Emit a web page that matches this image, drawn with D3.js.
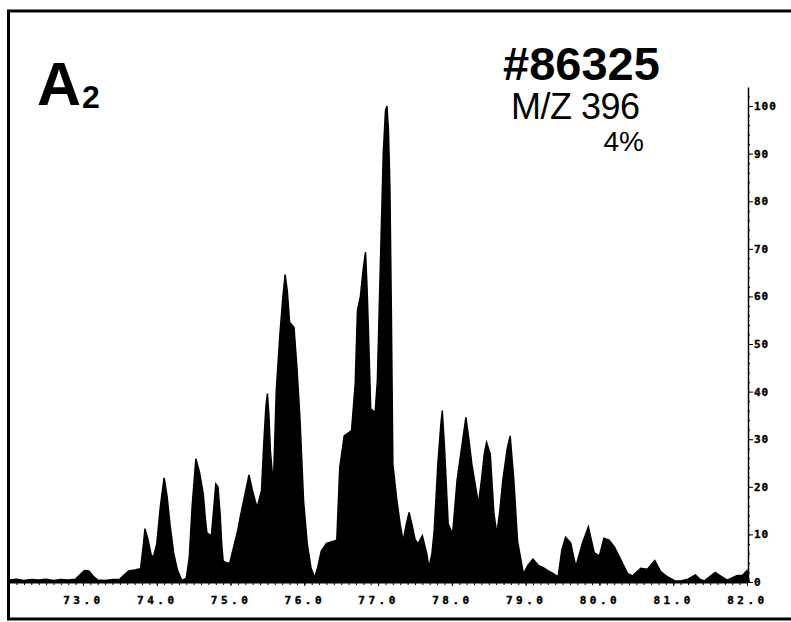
<!DOCTYPE html>
<html>
<head>
<meta charset="utf-8">
<script src="https://cdn.jsdelivr.net/npm/d3@7"></script>
<style>
  body { margin: 0; background: #fff; }
  .tick text { font-family: "DejaVu Sans Mono", monospace; font-weight: bold; }
</style>
</head>
<body>
<div id="chart"></div>
<script>
var width = 791, height = 622

// retention time (min) and relative abundance (%)
var times = [72.00, 72.10, 72.20, 72.30, 72.40, 72.50, 72.60, 72.70, 72.80, 72.90,
  72.96, 73.02, 73.08, 73.14, 73.20, 73.30, 73.40, 73.50, 73.56, 73.62,
  73.70, 73.78, 73.82, 73.84, 73.88, 73.92, 73.95, 74.00, 74.05, 74.10,
  74.14, 74.18, 74.23, 74.28, 74.34, 74.40, 74.44, 74.48, 74.53, 74.58,
  74.63, 74.66, 74.68, 74.74, 74.77, 74.80, 74.83, 74.86, 74.88, 74.90,
  74.95, 74.99, 75.04, 75.10, 75.13, 75.19, 75.25, 75.30, 75.36, 75.42,
  75.45, 75.48, 75.50, 75.52, 75.54, 75.58, 75.60, 75.62, 75.67, 75.71,
  75.74, 75.77, 75.80, 75.86, 75.90, 75.94, 75.99, 76.04, 76.09, 76.14,
  76.18, 76.23, 76.30, 76.44, 76.48, 76.54, 76.64, 76.69, 76.72, 76.76,
  76.80, 76.83, 76.85, 76.87, 76.90, 76.96, 76.99, 77.03, 77.07, 77.10,
  77.12, 77.14, 77.16, 77.18, 77.20, 77.25, 77.30, 77.34, 77.38, 77.42,
  77.46, 77.50, 77.54, 77.60, 77.66, 77.69, 77.73, 77.76, 77.81, 77.85,
  77.87, 77.90, 77.95, 78.01, 78.07, 78.13, 78.19, 78.23, 78.27, 78.36,
  78.40, 78.44, 78.47, 78.52, 78.57, 78.61, 78.65, 78.69, 78.75, 78.79,
  78.84, 78.89, 78.97, 79.03, 79.10, 79.17, 79.24, 79.30, 79.37, 79.44,
  79.49, 79.54, 79.61, 79.68, 79.77, 79.85, 79.93, 80.00, 80.06, 80.13,
  80.20, 80.27, 80.38, 80.45, 80.56, 80.65, 80.75, 80.83, 80.92, 81.03,
  81.10, 81.20, 81.30, 81.36, 81.42, 81.50, 81.57, 81.65, 81.73, 81.86,
  81.94, 82.00, 82.03]
var abundance = [0.4, 0.6, 0.3, 0.5, 0.4, 0.6, 0.3, 0.5, 0.4, 0.6,
  1.5, 2.4, 2.3, 1.2, 0.4, 0.3, 0.5, 0.6, 1.5, 2.3,
  2.5, 2.8, 8, 11.2, 9, 6, 5, 8, 16, 21.9,
  18, 12, 6, 2.5, 0.3, 0.8, 5, 16, 25.9, 23,
  18.5, 13, 10.3, 9.7, 15, 20.6, 20, 14, 8, 4.4,
  4, 4, 7.2, 11, 13.5, 18, 22.5, 19, 15.6, 19.2,
  29, 37, 39.6, 35, 27.6, 20.2, 30, 40.2, 52.2, 60,
  64.6, 61, 54.6, 53.5, 45, 34.6, 17, 8, 3, 0.9,
  3, 6.5, 8.1, 8.8, 24, 30.7, 31.8, 41.7, 57, 60,
  66, 69.3, 62, 52.2, 36.4, 35.6, 42.3, 66.2, 90, 99,
  100, 95, 83, 56.4, 24.8, 17.7, 12, 8.6, 12, 14.6,
  12, 9, 8, 9.7, 5.9, 3, 6, 10.7, 24.8, 33,
  36, 28.3, 12.2, 10.1, 21.3, 28, 34.6, 30, 24.8, 16.4,
  21.3, 27, 29.3, 26.9, 14.3, 10.1, 15, 21.3, 28, 30.7,
  21.3, 8.6, 1.7, 3.5, 4.8, 3.5, 3.0, 2.4, 1.8, 1.1,
  6.7, 9.4, 8.2, 3.2, 8.2, 11.6, 6.1, 5.5, 9.2, 8.8,
  7.4, 5.3, 1.8, 1.3, 2.9, 2.7, 4.5, 2.2, 1.1, 0.2,
  0.2, 0.6, 1.5, 0.6, 0.2, 1.2, 2, 1.2, 0.4, 1.3,
  1.4, 2.4, 0]

var timeTicks = [73, 74, 75, 76, 77, 78, 79, 80, 81, 82]
var abundanceTicks = [0, 10, 20, 30, 40, 50, 60, 70, 80, 90, 100]

var svg = d3.select('#chart')
  .append("svg")
  .attr("width", width)
  .attr("height", height)

var x = d3.scaleLinear().domain([72, 82]).range([9.2, 747])
var y = d3.scaleLinear().domain([0, 104]).range([582, 87])

var data = times.map(function(t, i) { return {t: t, v: abundance[i]} })

// filled trace
var area = d3.area()
  .x(function(d) { return x(d.t) })
  .y0(y(0))
  .y1(function(d) { return y(d.v) })
svg.append("path")
  .datum(data)
  .attr("d", area)
  .attr("fill", "#000")
  .attr("stroke", "#000")
  .attr("stroke-width", 1.5)

// bottom axis: minor ticks + labelled majors
var minorT = d3.range(721, 821).map(function(d) { return d / 10 })
svg.append("g")
  .attr("transform", "translate(0,582)")
  .call(d3.axisBottom(x).tickValues(minorT).tickSize(3).tickFormat(""))
  .call(function(g) { g.select(".domain").remove() })
svg.append("g")
  .attr("transform", "translate(0,582)")
  .call(d3.axisBottom(x).tickValues(timeTicks).tickSize(4).tickSizeOuter(0)
    .tickPadding(10).tickFormat(d3.format(".1f")))
  .call(function(g) {
    g.select(".domain").attr("stroke-width", 2)
    g.selectAll("text").attr("font-size", 11).attr("letter-spacing", 3.5)
      .attr("stroke", "#000").attr("stroke-width", 0.4)
  })

// right axis
var minorV = d3.range(0, 104, 2)
svg.append("g")
  .attr("transform", "translate(748,0)")
  .call(d3.axisRight(y).tickValues(minorV).tickSize(2).tickFormat(""))
  .call(function(g) { g.select(".domain").remove() })
svg.append("g")
  .attr("transform", "translate(748,0)")
  .call(d3.axisRight(y).tickValues(abundanceTicks).tickSize(5).tickSizeOuter(0)
    .tickPadding(1))
  .call(function(g) {
    g.select(".domain").attr("stroke-width", 1.5)
    g.selectAll("text").attr("font-size", 11).attr("letter-spacing", 1)
      .attr("stroke", "#000").attr("stroke-width", 0.4)
  })

// frame
svg.append("path")
  .attr("d", "M791,11 H8.5 V619 H791")
  .attr("fill", "none")
  .attr("stroke", "#000")
  .attr("stroke-width", 3)

// labels
var label = svg.append("g").attr("font-family", "Liberation Sans, Arial, sans-serif")
label.append("text").attr("x", 37).attr("y", 105)
  .attr("font-size", 61).attr("font-weight", "bold").text("A")
label.append("text").attr("x", 82).attr("y", 108)
  .attr("font-size", 32).attr("font-weight", "bold").text("2")
label.append("text").attr("x", 503).attr("y", 80)
  .attr("font-size", 47).attr("font-weight", "bold").text("#86325")
label.append("text").attr("x", 511).attr("y", 119)
  .attr("font-size", 36).attr("letter-spacing", -0.5).text("M/Z 396")
label.append("text").attr("x", 644).attr("y", 151).attr("text-anchor", "end")
  .attr("font-size", 28).text("4%")
</script>
</body>
</html>
